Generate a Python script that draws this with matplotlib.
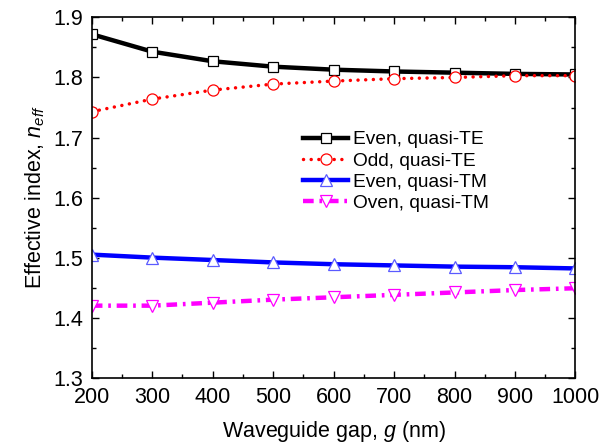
import numpy as np
import matplotlib
matplotlib.use("Agg")
import matplotlib.pyplot as plt
from matplotlib.ticker import MultipleLocator

plt.rcParams['font.family'] = ['Liberation Sans', 'DejaVu Sans']
plt.rcParams['mathtext.fontset'] = 'custom'
plt.rcParams['mathtext.it'] = 'Liberation Sans:italic'
plt.rcParams['mathtext.rm'] = 'Liberation Sans'

# waveguide gap (nm)
gap = [200, 300, 400, 500, 600, 700, 800, 900, 1000]

# effective indices
even_te = [1.872, 1.843, 1.827, 1.818, 1.813, 1.810, 1.808, 1.806, 1.805]
odd_te = [1.743, 1.764, 1.779, 1.789, 1.794, 1.798, 1.800, 1.803, 1.803]
even_tm = [1.505, 1.500, 1.496, 1.492, 1.489, 1.487, 1.485, 1.484, 1.482]
oven_tm = [1.420, 1.420, 1.425, 1.430, 1.434, 1.438, 1.442, 1.446, 1.449]

labels = ['Even, quasi-TE', 'Odd, quasi-TE', 'Even, quasi-TM', 'Oven, quasi-TM']

fig = plt.figure(figsize=(6.0, 4.47), dpi=100)
ax = fig.add_axes([0.153, 0.155, 0.806, 0.806])

ms = 7.5
ax.plot(gap, even_te, color='black', lw=3.2, marker='s', ms=ms,
        mfc='white', mec='black', mew=0.9, label=labels[0])
ax.plot(gap, odd_te, color='red', lw=2.5, ls=(0, (0.01, 2.2)), dash_capstyle='round',
        marker='o', ms=ms + 0.5, mfc='white', mec='red', mew=0.9, label=labels[1])
ax.plot(gap, even_tm, color='#0000ff', lw=3.2, marker='^', ms=ms + 1.5,
        mfc='white', mec='#5a5aff', mew=0.9, label=labels[2])
ax.plot(gap, oven_tm, color='magenta', lw=3.2, ls=(0, (2.4, 1.3, 0.6, 1.3)),
        marker='v', ms=ms + 1.5, mfc='white', mec='magenta', mew=0.9, label=labels[3])

ax.set_xlim(200, 1000)
ax.set_ylim(1.3, 1.9)
ax.xaxis.set_major_locator(MultipleLocator(100))
ax.xaxis.set_minor_locator(MultipleLocator(50))
ax.yaxis.set_major_locator(MultipleLocator(0.1))
ax.yaxis.set_minor_locator(MultipleLocator(0.05))
ax.tick_params(which='both', direction='in', top=True, right=True, labelsize=15.5)
ax.tick_params(axis='x', pad=6.5)
ax.tick_params(axis='y', pad=6)
ax.tick_params(which='major', length=5, width=1)
ax.tick_params(which='minor', length=3, width=1)
for sp in ax.spines.values():
    sp.set_linewidth(1.2)

ax.set_xlabel('Waveguide gap, $g$ (nm)', fontsize=15.5, labelpad=8)
ax.set_ylabel('Effective index, $n_{eff}$', fontsize=15.5, labelpad=5)

ax.legend(loc='upper left', bbox_to_anchor=(0.437, 0.685), frameon=False, fontsize=13.8,
          handlelength=2.35, handletextpad=0.25, labelspacing=0.2, borderpad=0,
          borderaxespad=0)

fig.savefig('out.png', dpi=100)
